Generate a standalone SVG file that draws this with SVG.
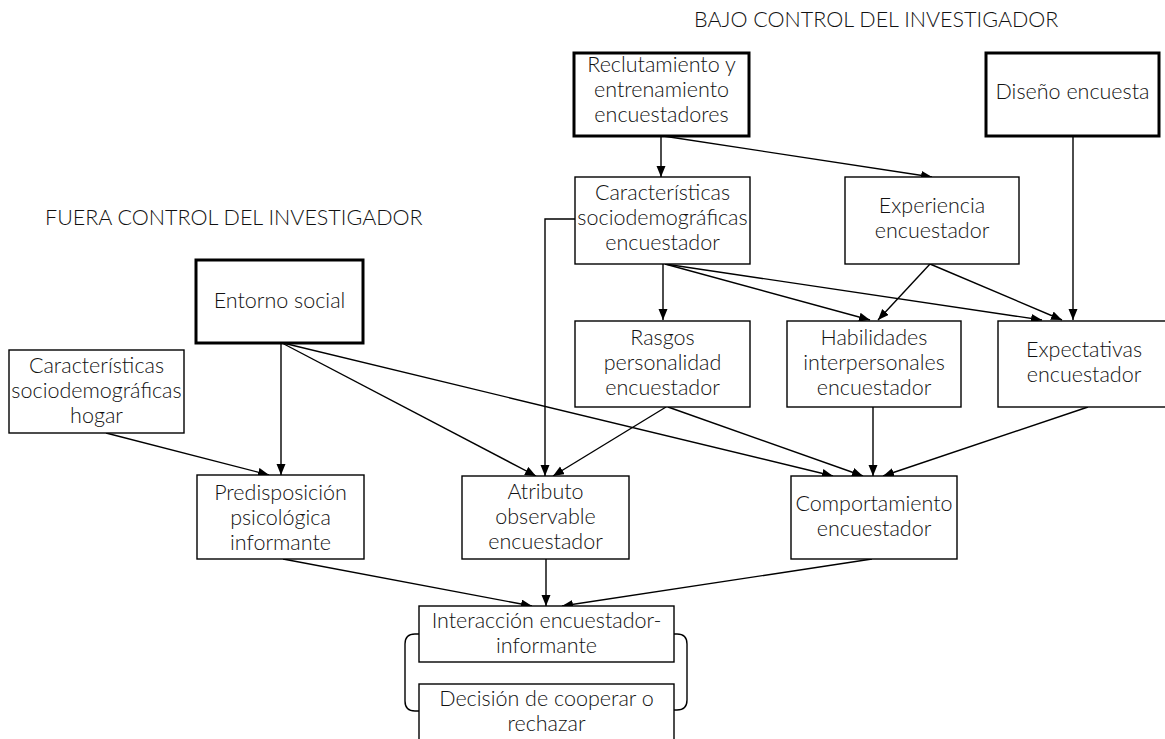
<svg xmlns="http://www.w3.org/2000/svg" width="1165" height="739" viewBox="0 0 1165 739">
  <style>
    text { font-family: "Lato", "Open Sans", "Liberation Sans", sans-serif; font-weight: 300; font-size: 21.5px; fill: #111111; text-anchor: middle; }
    .title { font-size: 21.5px; text-anchor: start; }
    .box { fill: #ffffff; stroke: #000000; stroke-width: 1.4; }
    .key { fill: #ffffff; stroke: #000000; stroke-width: 3; }
    .edge { fill: none; stroke: #000000; stroke-width: 1.4; }
    .arrow { marker-end: url(#head); }
  </style>
  <defs>
    <marker id="head" markerUnits="userSpaceOnUse" markerWidth="12" markerHeight="10" refX="11" refY="4.5" orient="auto">
      <path d="M0,0 L11,4.5 L0,9 z" fill="#000000"/>
    </marker>
  </defs>

  <rect width="1165" height="739" fill="#ffffff"/>

  <!-- section headings -->
  <text class="title" x="694" y="27">BAJO CONTROL DEL INVESTIGADOR</text>
  <text class="title" x="45" y="225">FUERA CONTROL DEL INVESTIGADOR</text>

  <!-- connectors -->
  <g id="connectors">
    <path class="edge arrow" d="M661,136 V177"/>
    <path class="edge arrow" d="M663,136 L932,177"/>
    <path class="edge arrow" d="M1073,136 V320"/>
    <path class="edge arrow" d="M663,264 V320"/>
    <path class="edge arrow" d="M665,264 L870,320"/>
    <path class="edge arrow" d="M665,264 L1042,320"/>
    <path class="edge arrow" d="M930,264 L878,320"/>
    <path class="edge arrow" d="M930,264 L1062,320"/>
    <path class="edge arrow" d="M575,219 H545 V476"/>
    <path class="edge arrow" d="M666,407 L553,476"/>
    <path class="edge arrow" d="M668,407 L863,476"/>
    <path class="edge arrow" d="M873,407 V476"/>
    <path class="edge arrow" d="M1088,407 L883,476"/>
    <path class="edge arrow" d="M281,343 V475"/>
    <path class="edge arrow" d="M282,343 L536,476"/>
    <path class="edge arrow" d="M283,343 L833,476"/>
    <path class="edge arrow" d="M106,433 L269,475"/>
    <path class="edge arrow" d="M283,559 L532,606"/>
    <path class="edge arrow" d="M546,559 V606"/>
    <path class="edge arrow" d="M872,559 L562,606"/>
    <!-- brackets joining interaction and decision -->
    <path class="edge" d="M419,634 H415 Q405,634 405,644 V701 Q405,711 415,711 H419"/>
    <path class="edge" d="M674,634 H677 Q687,634 687,644 V700 Q687,710 677,710 H674"/>
  </g>

  <g id="reclutamiento">
    <rect class="key" x="574" y="53" width="175" height="83"/>
    <text x="661.5" y="72">Reclutamiento y</text>
    <text x="661.5" y="97">entrenamiento</text>
    <text x="661.5" y="122">encuestadores</text>
  </g>

  <g id="diseno">
    <rect class="key" x="986" y="53" width="173" height="83"/>
    <text x="1072.5" y="99">Diseño encuesta</text>
  </g>

  <g id="caracteristicas-encuestador">
    <rect class="box" x="575" y="177" width="175" height="87"/>
    <text x="662.5" y="200">Características</text>
    <text x="662.5" y="225">sociodemográficas</text>
    <text x="662.5" y="250">encuestador</text>
  </g>

  <g id="experiencia">
    <rect class="box" x="845" y="177" width="174" height="87"/>
    <text x="932" y="213">Experiencia</text>
    <text x="932" y="238">encuestador</text>
  </g>

  <g id="entorno">
    <rect class="key" x="196" y="260" width="167" height="83"/>
    <text x="279.5" y="308">Entorno social</text>
  </g>

  <g id="hogar">
    <rect class="box" x="9" y="350" width="175" height="83"/>
    <text x="96.5" y="373">Características</text>
    <text x="96.5" y="398">sociodemográficas</text>
    <text x="96.5" y="423">hogar</text>
  </g>

  <g id="rasgos">
    <rect class="box" x="575" y="321" width="175" height="86"/>
    <text x="662.5" y="345">Rasgos</text>
    <text x="662.5" y="370">personalidad</text>
    <text x="662.5" y="395">encuestador</text>
  </g>

  <g id="habilidades">
    <rect class="box" x="787" y="321" width="174" height="86"/>
    <text x="874" y="345">Habilidades</text>
    <text x="874" y="370">interpersonales</text>
    <text x="874" y="395">encuestador</text>
  </g>

  <g id="expectativas">
    <rect class="box" x="998" y="321" width="172" height="86"/>
    <text x="1084" y="357">Expectativas</text>
    <text x="1084" y="382">encuestador</text>
  </g>

  <g id="predisposicion">
    <rect class="box" x="197" y="475" width="167" height="84"/>
    <text x="280.5" y="500">Predisposición</text>
    <text x="280.5" y="525">psicológica</text>
    <text x="280.5" y="550">informante</text>
  </g>

  <g id="atributo">
    <rect class="box" x="462" y="476" width="167" height="83"/>
    <text x="545.5" y="499">Atributo</text>
    <text x="545.5" y="524">observable</text>
    <text x="545.5" y="549">encuestador</text>
  </g>

  <g id="comportamiento">
    <rect class="box" x="791" y="476" width="166" height="83"/>
    <text x="874" y="511">Comportamiento</text>
    <text x="874" y="536">encuestador</text>
  </g>

  <g id="interaccion">
    <rect class="box" x="419" y="606" width="255" height="56"/>
    <text x="546.5" y="628">Interacción encuestador-</text>
    <text x="546.5" y="653">informante</text>
  </g>

  <g id="decision">
    <rect class="box" x="419" y="684" width="255" height="70"/>
    <text x="546.5" y="706">Decisión de cooperar o</text>
    <text x="546.5" y="731">rechazar</text>
  </g>
</svg>
